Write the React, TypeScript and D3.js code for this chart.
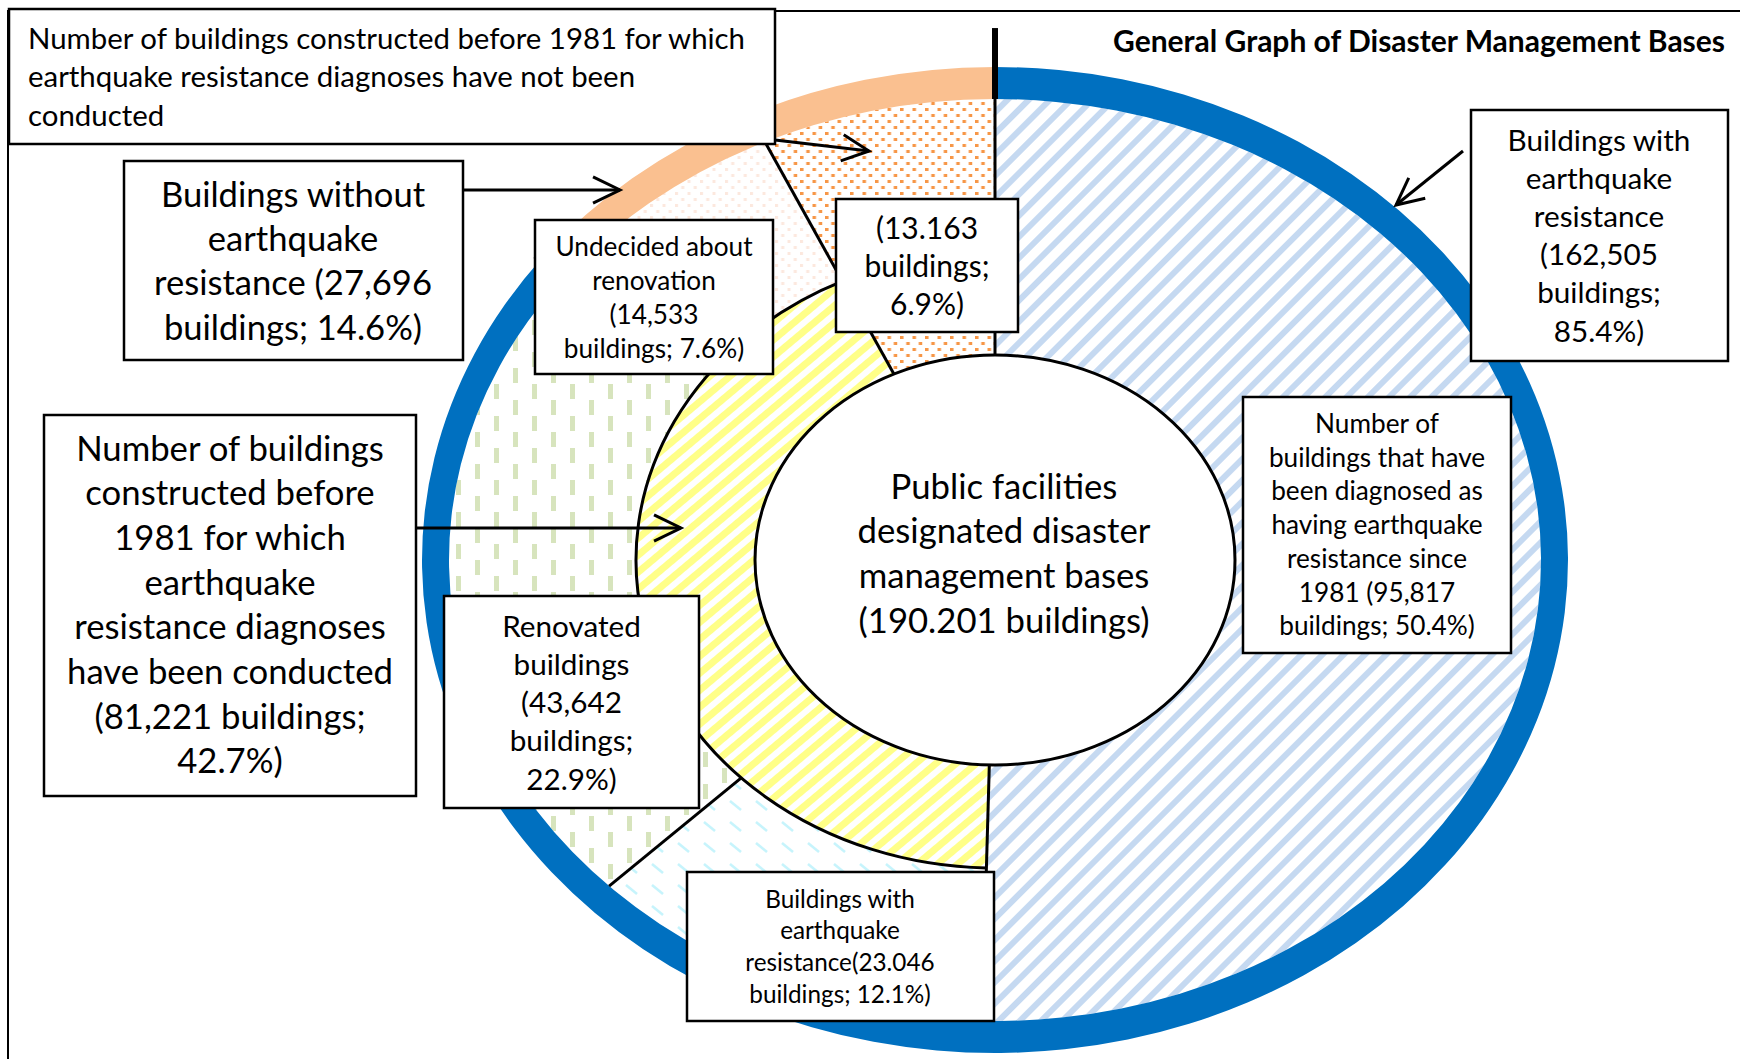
import React from "react";
import * as d3 from "d3";

const W = 1740;
const H = 1059;

// ---------------- DATA ----------------
const TOTAL = 190201;
// inner segments, clockwise from 12 o'clock
const innerCategories = [
  "Diagnosed as having earthquake resistance since 1981",
  "Buildings with earthquake resistance",
  "Renovated buildings",
  "Undecided about renovation",
  "Diagnoses not conducted",
];
const innerValues = [95817, 23046, 43642, 14533, 13163];
// middle ring grouping
const ringCategories = ["Since 1981", "Diagnoses conducted (before 1981)", "Diagnoses not conducted"];
const ringValues = [95817, 81221, 13163];
// outer band
const bandCategories = ["Buildings with earthquake resistance", "Buildings without earthquake resistance"];
const bandValues = [162505, 27696];

const titleText = "General Graph of Disaster Management Bases";
const centerLines = ["Public facilities", "designated disaster", "management bases", "(190.201 buildings)"];
const labelTexts = [
  ["Number of buildings constructed before 1981 for which", "earthquake resistance diagnoses have not been", "conducted"],
  ["Buildings without", "earthquake", "resistance (27,696", "buildings; 14.6%)"],
  ["Number of buildings", "constructed before", "1981 for which", "earthquake", "resistance diagnoses", "have been conducted", "(81,221 buildings;", "42.7%)"],
  ["Undecided about", "renovation", "(14,533", "buildings; 7.6%)"],
  ["(13.163", "buildings;", "6.9%)"],
  ["Buildings with", "earthquake", "resistance", "(162,505", "buildings;", "85.4%)"],
  ["Number of", "buildings that have", "been diagnosed as", "having earthquake", "resistance since", "1981 (95,817", "buildings; 50.4%)"],
  ["Renovated", "buildings", "(43,642", "buildings;", "22.9%)"],
  ["Buildings with", "earthquake", "resistance(23.046", "buildings; 12.1%)"],
];

// ---------------- LAYOUT / STYLE ----------------
const CX = 995;
const CY = 560;
const E_CENTER = { rx: 240, ry: 205 };
const E_MID = { rx: 359, ry: 308 };
const E_BAND_IN = { rx: 546, ry: 461 };
const E_BAND_OUT = { rx: 573, ry: 493 };
const FONT = "Lato, 'Open Sans', sans-serif";

const boxLayout = [
  { x: 9, y: 9, w: 766, h: 135, tx: 28, ty: 37.5, dy: 38.3, fs: 29.4, anchor: "start" },
  { x: 124, y: 161, w: 339, h: 199, tx: 293, ty: 193, dy: 44.4, fs: 34.6, anchor: "middle" },
  { x: 44, y: 415, w: 372, h: 381, tx: 230, ty: 447, dy: 44.7, fs: 34.7, anchor: "middle" },
  { x: 535, y: 220, w: 238, h: 154, tx: 654, ty: 245.5, dy: 34, fs: 26.2, anchor: "middle" },
  { x: 836, y: 199, w: 182, h: 133, tx: 927, ty: 226.5, dy: 38.3, fs: 30, anchor: "middle" },
  { x: 1471, y: 110, w: 257, h: 251, tx: 1599, ty: 139, dy: 38.2, fs: 29.7, anchor: "middle" },
  { x: 1243, y: 397, w: 268, h: 256, tx: 1377, ty: 423, dy: 33.7, fs: 26.2, anchor: "middle" },
  { x: 444, y: 596, w: 255, h: 212, tx: 571.5, ty: 625, dy: 38.3, fs: 29.7, anchor: "middle" },
  { x: 687, y: 872, w: 307, h: 149, tx: 840, ty: 898, dy: 31.8, fs: 24.3, anchor: "middle" },
];

const arrows = [
  { x1: 775, y1: 140, x2: 869, y2: 151 },
  { x1: 463, y1: 190, x2: 620, y2: 190 },
  { x1: 416, y1: 528, x2: 681, y2: 528 },
  { x1: 1463, y1: 151, x2: 1396, y2: 205 },
];

const innerFills = ["url(#pBlue)", "url(#pCyan)", "url(#pGreen)", "url(#pPink)", "url(#pOrange)"];
const ringFills = [null, "url(#pYellow)", null];
const bandColors = ["#0070c0", "#fac090"];
const tickExtent = [1.079, 1.012];

type Ell = { rx: number; ry: number };

function pt(e: Ell, a: number, k = 1): [number, number] {
  return [CX + e.rx * k * Math.sin(a), CY - e.ry * k * Math.cos(a)];
}

function sector(a0: number, a1: number, ein: Ell, eout: Ell): string {
  const large = a1 - a0 > Math.PI ? 1 : 0;
  const [x0, y0] = pt(eout, a0);
  const [x1, y1] = pt(eout, a1);
  const [x2, y2] = pt(ein, a1);
  const [x3, y3] = pt(ein, a0);
  return `M${x0},${y0}A${eout.rx},${eout.ry} 0 ${large} 1 ${x1},${y1}L${x2},${y2}A${ein.rx},${ein.ry} 0 ${large} 0 ${x3},${y3}Z`;
}

function ellArc(a0: number, a1: number, e: Ell): string {
  const large = a1 - a0 > Math.PI ? 1 : 0;
  const [x0, y0] = pt(e, a0);
  const [x1, y1] = pt(e, a1);
  return `M${x0},${y0}A${e.rx},${e.ry} 0 ${large} 1 ${x1},${y1}`;
}

function arrowHead(a: { x1: number; y1: number; x2: number; y2: number }): string {
  const ang = Math.atan2(a.y2 - a.y1, a.x2 - a.x1);
  const L = 30;
  const h = (26 * Math.PI) / 180;
  const p1 = [a.x2 - L * Math.cos(ang - h), a.y2 - L * Math.sin(ang - h)];
  const p2 = [a.x2 - L * Math.cos(ang + h), a.y2 - L * Math.sin(ang + h)];
  return `M${p1[0]},${p1[1]}L${a.x2},${a.y2}L${p2[0]},${p2[1]}`;
}

export default function App() {
  const pie = d3.pie<number>().sort(null).value((d) => d).startAngle(0).endAngle(2 * Math.PI);
  const angle = d3.scaleLinear().domain([0, TOTAL]).range([0, 2 * Math.PI]);
  const innerArcs = pie(innerValues);
  const ringArcs = pie(ringValues);
  const bandArcs = pie(bandValues);

  const ringBounds = ringArcs.map((d) => d.startAngle);
  const bandBounds = bandArcs.map((d) => d.startAngle);

  // radial boundary lines of inner segments
  const radialLines = innerArcs.map((d) => {
    const a = angle(d3.sum(innerValues.slice(0, d.index)));
    const fromCenter = ringBounds.some((b) => Math.abs(b - a) < 1e-9);
    const [x1, y1] = pt(fromCenter ? E_CENTER : E_MID, a);
    const [x2, y2] = pt(E_BAND_IN, a);
    return { x1, y1, x2, y2, key: innerCategories[d.index] };
  });

  const ticks = bandBounds.map((a, i) => {
    const [x1, y1] = pt(E_BAND_IN, a);
    const [x2, y2] = pt(E_BAND_OUT, a, tickExtent[i]);
    return { x1, y1, x2, y2, key: bandCategories[i] };
  });

  const ringDiag = ringArcs[1];

  return (
    <svg width={W} height={H} style={{ position: "absolute", left: 0, top: 0, background: "#fff" }}>
      <defs>
        <pattern id="pBlue" patternUnits="userSpaceOnUse" width={15} height={15} patternTransform="rotate(45)">
          <rect width={15} height={15} fill="#fff" />
          <rect x={0} y={0} width={6} height={15} fill="#c5d9f1" />
        </pattern>
        <pattern id="pYellow" patternUnits="userSpaceOnUse" width={13} height={13} patternTransform="rotate(50)">
          <rect width={13} height={13} fill="#fff" />
          <rect x={0} y={0} width={7} height={13} fill="#ffff88" />
        </pattern>
        <pattern id="pGreen" patternUnits="userSpaceOnUse" width={38} height={32}>
          <rect width={38} height={32} fill="#fff" />
          <rect x={0} y={0} width={5} height={15} fill="#d7e4bd" />
          <rect x={19} y={16} width={5} height={15} fill="#d7e4bd" />
        </pattern>
        <pattern id="pCyan" patternUnits="userSpaceOnUse" width={26} height={21}>
          <rect width={26} height={21} fill="#fff" />
          <line x1={2} y1={3} x2={13} y2={12} stroke="#c6f4fc" strokeWidth={2.5} />
        </pattern>
        <pattern id="pPink" patternUnits="userSpaceOnUse" width={12.5} height={12}>
          <rect width={12.5} height={12} fill="#fff" />
          <rect x={0} y={0} width={3} height={3} fill="#fce8de" />
          <rect x={6.25} y={6} width={3} height={3} fill="#fce8de" />
        </pattern>
        <pattern id="pOrange" patternUnits="userSpaceOnUse" width={12.5} height={12}>
          <rect width={12.5} height={12} fill="#fff" />
          <rect x={0} y={0} width={3.5} height={3} fill="#f79646" />
          <rect x={6.25} y={6} width={3.5} height={3} fill="#f79646" />
        </pattern>
      </defs>

      <rect x={0} y={0} width={W} height={H} fill="#fff" />
      {/* frame */}
      <rect x={8} y={11} width={1800} height={1100} fill="none" stroke="#000" strokeWidth={2} />

      {/* inner segments */}
      {innerArcs.map((d) => {
        const fromCenter = d.index === 0 || d.index === innerArcs.length - 1;
        return (
          <path
            key={innerCategories[d.index]}
            d={sector(d.startAngle, d.endAngle, fromCenter ? E_CENTER : E_MID, E_BAND_IN)}
            fill={innerFills[d.index]}
          />
        );
      })}
      {/* middle ring */}
      {ringArcs.map((d) =>
        ringFills[d.index] ? (
          <path key={ringCategories[d.index]} d={sector(d.startAngle, d.endAngle, E_CENTER, E_MID)} fill={ringFills[d.index] as string} />
        ) : null
      )}
      {/* outer band */}
      {bandArcs.map((d) => (
        <path key={bandCategories[d.index]} d={sector(d.startAngle, d.endAngle, E_BAND_IN, E_BAND_OUT)} fill={bandColors[d.index]} />
      ))}

      {/* outlines */}
      <path d={ellArc(ringDiag.startAngle, ringDiag.endAngle, E_MID)} fill="none" stroke="#000" strokeWidth={3} />
      {radialLines.map((l) => (
        <line key={l.key} x1={l.x1} y1={l.y1} x2={l.x2} y2={l.y2} stroke="#000" strokeWidth={3} />
      ))}
      {ticks.map((t) => (
        <line key={t.key} x1={t.x1} y1={t.y1} x2={t.x2} y2={t.y2} stroke="#000" strokeWidth={6} />
      ))}
      <ellipse cx={CX} cy={CY} rx={E_CENTER.rx} ry={E_CENTER.ry} fill="#fff" stroke="#000" strokeWidth={3} />

      {/* arrows */}
      {arrows.map((a, i) => (
        <g key={"arrow" + i} stroke="#000" strokeWidth={3} fill="none">
          <line x1={a.x1} y1={a.y1} x2={a.x2} y2={a.y2} />
          <path d={arrowHead(a)} />
        </g>
      ))}

      {/* center text */}
      <text fontFamily={FONT} fontSize={34.7} textAnchor="middle" fill="#000">
        {centerLines.map((s, i) => (
          <tspan key={i} x={1004} y={485 + i * 44.7} dominantBaseline="central">
            {s}
          </tspan>
        ))}
      </text>

      {/* label boxes */}
      {labelTexts.map((lines, bi) => {
        const b = boxLayout[bi];
        return (
          <g key={"box" + bi}>
            <rect x={b.x} y={b.y} width={b.w} height={b.h} fill="#fff" stroke="#000" strokeWidth={2.5} />
            <text fontFamily={FONT} fontSize={b.fs} textAnchor={b.anchor} fill="#000">
              {lines.map((s, i) => (
                <tspan key={i} x={b.tx} y={b.ty + i * b.dy} dominantBaseline="central">
                  {s}
                </tspan>
              ))}
            </text>
          </g>
        );
      })}

      {/* title */}
      <text x={1725} y={40} fontFamily={FONT} fontWeight="bold" fontSize={30} textAnchor="end" dominantBaseline="central" fill="#000">
        {titleText}
      </text>
    </svg>
  );
}
